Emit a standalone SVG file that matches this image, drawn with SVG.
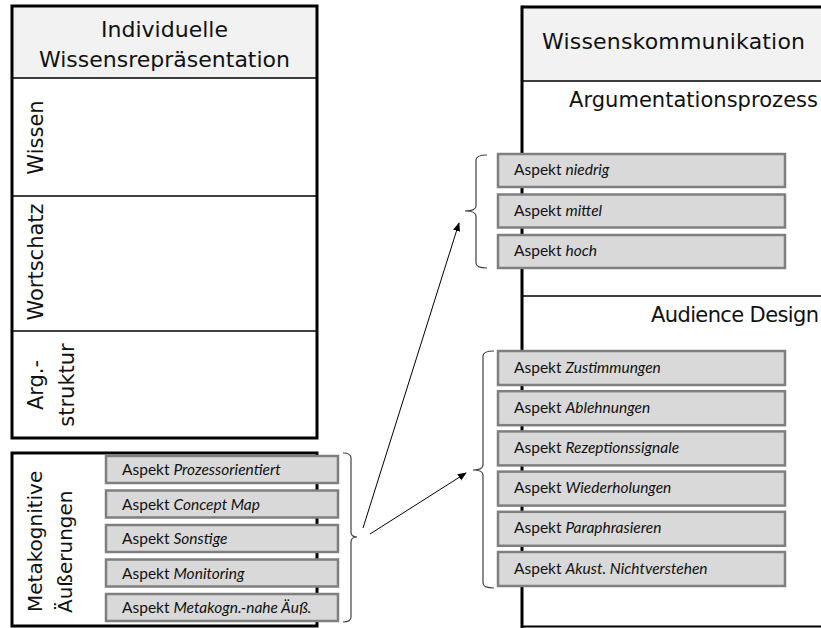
<svg xmlns="http://www.w3.org/2000/svg" width="821" height="628" viewBox="0 0 821 628">
<defs>
<style>
.hdr{font-family:"DejaVu Sans",sans-serif;font-size:22px;fill:#111}
.sub{font-family:"DejaVu Sans",sans-serif;font-size:21px;fill:#111}
.rot{font-family:"DejaVu Sans",sans-serif;font-size:21px;fill:#111}
.rotm{font-family:"DejaVu Sans",sans-serif;font-size:20px;fill:#111}
.asp rect{fill:#d9d9d9;stroke:#7f7f7f;stroke-width:2.5}
.asp text{font-family:Lato,"Liberation Sans",sans-serif;font-size:15.5px;fill:#111}
.it{font-style:italic}
.thick{stroke:#000;stroke-width:3;fill:none}
.thin{stroke:#000;stroke-width:1.5;fill:none}
.brace{stroke:#404040;stroke-width:1.2;fill:none}
.conn{stroke:#000;stroke-width:1;fill:none}
</style>
<marker id="ah" viewBox="0 0 10 10" refX="9" refY="5" markerWidth="9" markerHeight="9" markerUnits="userSpaceOnUse" orient="auto">
<path d="M0,1 L10,5 L0,9 z" fill="#000"/>
</marker>
</defs>
<rect width="821" height="628" fill="#fff"/>

<g id="individuelle">
<rect x="12" y="6" width="305" height="72" fill="#f2f2f2"/>
<rect x="12" y="6" width="305" height="432" class="thick"/>
<line x1="12" y1="78" x2="317" y2="78" class="thin"/>
<line x1="12" y1="196" x2="317" y2="196" class="thin"/>
<line x1="12" y1="331" x2="317" y2="331" class="thin"/>
<text class="hdr" x="164.5" y="37" text-anchor="middle">Individuelle</text>
<text class="hdr" x="164.5" y="67" text-anchor="middle">Wissensrepräsentation</text>
<g id="wissen"><text class="rot" transform="translate(43,137.5) rotate(-90)" text-anchor="middle">Wissen</text></g>
<g id="wortschatz"><text class="rot" transform="translate(43,262) rotate(-90)" text-anchor="middle">Wortschatz</text></g>
<g id="argstruktur">
<text class="rot" transform="translate(43,385) rotate(-90)" text-anchor="middle">Arg.-</text>
<text class="rot" transform="translate(74,385) rotate(-90)" text-anchor="middle">struktur</text>
</g>
</g>

<g id="metakognitive">
<rect x="12" y="453" width="305" height="173" class="thick" stroke-width="2.5"/>
<text class="rotm" transform="translate(42,612) rotate(-90)">Metakognitive</text>
<text class="rotm" transform="translate(72,613) rotate(-90)">Äußerungen</text>
<g class="asp">
<g id="m1"><rect x="106" y="456" width="232" height="27"/><text x="122" y="475">Aspekt <tspan class="it">Prozessorientiert</tspan></text></g>
<g id="m2"><rect x="106" y="490.5" width="232" height="27"/><text x="122" y="509.5">Aspekt <tspan class="it">Concept Map</tspan></text></g>
<g id="m3"><rect x="106" y="525" width="232" height="27"/><text x="122" y="544">Aspekt <tspan class="it">Sonstige</tspan></text></g>
<g id="m4"><rect x="106" y="559.5" width="232" height="27"/><text x="122" y="578.5">Aspekt <tspan class="it">Monitoring</tspan></text></g>
<g id="m5"><rect x="106" y="594" width="232" height="27"/><text x="122" y="613">Aspekt <tspan class="it">Metakogn.-nahe Äuß.</tspan></text></g>
</g>
</g>

<g id="wissenskommunikation">
<rect x="522" y="7" width="300" height="74" fill="#f2f2f2"/>
<line x1="522" y1="7" x2="821" y2="7" class="thick"/>
<line x1="522" y1="5.5" x2="522" y2="628" class="thick"/>
<line x1="522" y1="626.5" x2="821" y2="626.5" stroke="#000" stroke-width="2"/>
<line x1="522" y1="81" x2="821" y2="81" class="thin"/>
<line x1="522" y1="296" x2="821" y2="296" class="thin"/>
<text class="hdr" x="542" y="49" textLength="263">Wissenskommunikation</text>
<g id="argumentationsprozess">
<text class="sub" x="569" y="107" textLength="249">Argumentationsprozess</text>
<g class="asp">
<g id="a1"><rect x="498" y="154" width="287" height="33"/><text x="514" y="175">Aspekt <tspan class="it">niedrig</tspan></text></g>
<g id="a2"><rect x="498" y="194.5" width="287" height="33"/><text x="514" y="215.5">Aspekt <tspan class="it">mittel</tspan></text></g>
<g id="a3"><rect x="498" y="235" width="287" height="33"/><text x="514" y="256">Aspekt <tspan class="it">hoch</tspan></text></g>
</g>
</g>
<g id="audiencedesign">
<text class="sub" x="651" y="322" textLength="168">Audience Design</text>
<g class="asp">
<g id="d1"><rect x="498" y="351" width="287" height="34"/><text x="514" y="372.5">Aspekt <tspan class="it">Zustimmungen</tspan></text></g>
<g id="d2"><rect x="498" y="391.2" width="287" height="34"/><text x="514" y="412.7">Aspekt <tspan class="it">Ablehnungen</tspan></text></g>
<g id="d3"><rect x="498" y="431.4" width="287" height="34"/><text x="514" y="452.9">Aspekt <tspan class="it">Rezeptionssignale</tspan></text></g>
<g id="d4"><rect x="498" y="471.6" width="287" height="34"/><text x="514" y="493.1">Aspekt <tspan class="it">Wiederholungen</tspan></text></g>
<g id="d5"><rect x="498" y="511.8" width="287" height="34"/><text x="514" y="533.3">Aspekt <tspan class="it">Paraphrasieren</tspan></text></g>
<g id="d6"><rect x="498" y="552" width="287" height="34"/><text x="514" y="573.5">Aspekt <tspan class="it">Akust. Nichtverstehen</tspan></text></g>
</g>
</g>
</g>

<g id="connectors">
<path class="brace" d="M343,453 Q351,453 351,458 L351,532 Q351,537 357,537 Q351,537 351,542 L351,617 Q351,622 343,622"/>
<path class="brace" d="M487,155 Q476,155 476,160 L476,206 Q476,211 465,211 Q476,211 476,216 L476,263 Q476,268 487,268"/>
<path class="brace" d="M494,351 Q483,351 483,356 L483,465 Q483,470 473,470 Q483,470 483,475 L483,583 Q483,588 494,588"/>
<line class="conn" x1="363" y1="528" x2="459" y2="223" marker-end="url(#ah)"/>
<line class="conn" x1="370" y1="534" x2="466" y2="473" marker-end="url(#ah)"/>
</g>
</svg>
